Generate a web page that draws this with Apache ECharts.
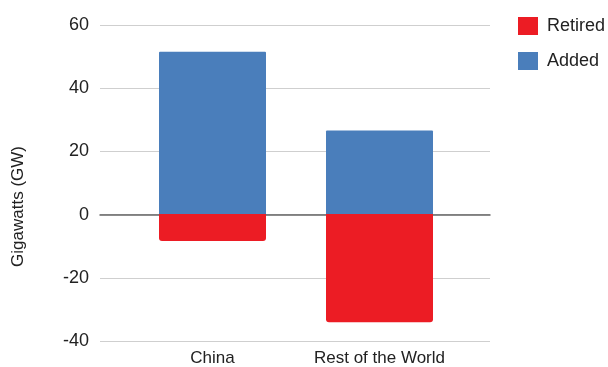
<!DOCTYPE html>
<html>
<head>
<meta charset="utf-8">
<script src="https://cdn.jsdelivr.net/npm/echarts@6/dist/echarts.min.js"></script>
<style>
  html, body { margin: 0; padding: 0; background: #fff; }
  #chart { width: 608px; height: 367px; }
</style>
</head>
<body>
<div id="chart"></div>
<script>
// Capacity changes by region (GW)
const regions = ['China', 'Rest of the World'];
const retired = [-8.6, -34.4];
const added = [51.5, 26.5];
const yTicks = { min: -40, max: 60, step: 20 };

const FONT = '"Liberation Sans", Arial, sans-serif';
const chart = echarts.init(document.getElementById('chart'), null, { renderer: 'canvas' });

chart.setOption({
  animation: false,
  textStyle: { fontFamily: FONT },
  legend: {
    orient: 'vertical',
    left: 513,
    top: 12,
    itemWidth: 20,
    itemHeight: 18,
    itemGap: 17,
    icon: 'rect',
    data: ['Retired', 'Added'],
    textStyle: { fontSize: 18, color: '#222', fontFamily: FONT, padding: [0, 0, 0, 4] }
  },
  graphic: [{
    type: 'text',
    left: 10,
    top: 146,
    rotation: Math.PI / 2,
    style: { text: 'Gigawatts (GW)', fontSize: 17, fill: '#222', font: '17px ' + FONT }
  }],
  grid: [
    { left: 100, right: 118, top: 25, bottom: 26 },
    { left: 129, right: 145, top: 25, bottom: 26 }
  ],
  xAxis: [
    {
      gridIndex: 0, type: 'value', min: 0, max: 1,
      axisLine: { show: true, onZero: true, lineStyle: { color: '#666', width: 1.5 } },
      axisTick: { show: false }, axisLabel: { show: false }, splitLine: { show: false }
    },
    {
      gridIndex: 1, type: 'category', data: regions,
      axisLine: { show: false }, axisTick: { show: false },
      axisLabel: { interval: 0, fontSize: 17, color: '#222', margin: 10, fontFamily: FONT }
    }
  ],
  yAxis: [
    {
      gridIndex: 0, type: 'value', min: yTicks.min, max: yTicks.max, interval: yTicks.step,
      axisLine: { show: false }, axisTick: { show: false },
      axisLabel: { fontSize: 18, color: '#222', margin: 11, fontFamily: FONT },
      splitLine: { lineStyle: { color: '#cfcfcf', width: 1.2 } }
    },
    {
      gridIndex: 1, type: 'value', min: yTicks.min, max: yTicks.max, interval: yTicks.step,
      show: false, splitLine: { show: false }
    }
  ],
  series: [
    {
      name: 'Added', type: 'bar', stack: 'total', xAxisIndex: 1, yAxisIndex: 1,
      barWidth: 107, data: added,
      itemStyle: { color: '#4a7ebb', borderRadius: [1, 1, 0, 0] }
    },
    {
      name: 'Retired', type: 'bar', stack: 'total', xAxisIndex: 1, yAxisIndex: 1,
      barWidth: 107, data: retired,
      itemStyle: { color: '#ec1c24', borderRadius: [0, 0, 3, 3] }
    }
  ]
});
</script>
</body>
</html>
